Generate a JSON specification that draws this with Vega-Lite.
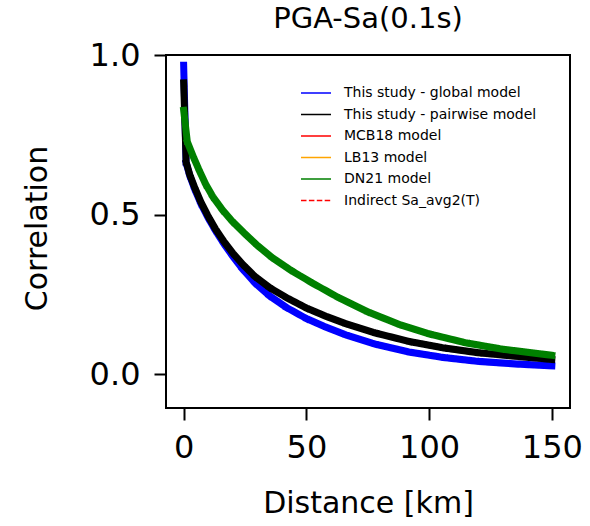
{
  "$schema": "https://vega.github.io/schema/vega-lite/v6.json",
  "width": 404,
  "height": 353,
  "autosize": {"type": "none"},
  "padding": {"left": 166, "top": 55, "right": 20, "bottom": 118},
  "background": "white",
  "title": {"text": "PGA-Sa(0.1s)", "font": "DejaVu Sans", "fontSize": 29, "fontWeight": "normal", "color": "black", "baseline": "bottom", "offset": 16, "dy": 40, "anchor": "middle", "frame": "group"},
  "data": {"values": [
    {"series": "This study - global model", "x": 0, "y": 0.968},
    {"series": "This study - global model", "x": 1, "y": 0.662},
    {"series": "This study - global model", "x": 2.5, "y": 0.622},
    {"series": "This study - global model", "x": 4.5, "y": 0.58},
    {"series": "This study - global model", "x": 7, "y": 0.535},
    {"series": "This study - global model", "x": 10, "y": 0.49},
    {"series": "This study - global model", "x": 13, "y": 0.45},
    {"series": "This study - global model", "x": 16.5, "y": 0.408},
    {"series": "This study - global model", "x": 20, "y": 0.37},
    {"series": "This study - global model", "x": 24, "y": 0.33},
    {"series": "This study - global model", "x": 29, "y": 0.287},
    {"series": "This study - global model", "x": 35, "y": 0.246},
    {"series": "This study - global model", "x": 42, "y": 0.209},
    {"series": "This study - global model", "x": 50, "y": 0.175},
    {"series": "This study - global model", "x": 58, "y": 0.148},
    {"series": "This study - global model", "x": 66, "y": 0.124},
    {"series": "This study - global model", "x": 78, "y": 0.095},
    {"series": "This study - global model", "x": 92, "y": 0.07},
    {"series": "This study - global model", "x": 106, "y": 0.053},
    {"series": "This study - global model", "x": 120, "y": 0.041},
    {"series": "This study - global model", "x": 135, "y": 0.033},
    {"series": "This study - global model", "x": 150, "y": 0.027},
    {"series": "This study - pairwise model", "x": 0, "y": 0.913},
    {"series": "This study - pairwise model", "x": 1, "y": 0.665},
    {"series": "This study - pairwise model", "x": 2.5, "y": 0.625},
    {"series": "This study - pairwise model", "x": 4.5, "y": 0.585},
    {"series": "This study - pairwise model", "x": 7, "y": 0.54},
    {"series": "This study - pairwise model", "x": 10, "y": 0.495},
    {"series": "This study - pairwise model", "x": 13, "y": 0.455},
    {"series": "This study - pairwise model", "x": 16.5, "y": 0.415},
    {"series": "This study - pairwise model", "x": 20, "y": 0.38},
    {"series": "This study - pairwise model", "x": 24, "y": 0.345},
    {"series": "This study - pairwise model", "x": 29, "y": 0.307},
    {"series": "This study - pairwise model", "x": 35, "y": 0.272},
    {"series": "This study - pairwise model", "x": 42, "y": 0.24},
    {"series": "This study - pairwise model", "x": 50, "y": 0.208},
    {"series": "This study - pairwise model", "x": 58, "y": 0.182},
    {"series": "This study - pairwise model", "x": 66, "y": 0.159},
    {"series": "This study - pairwise model", "x": 78, "y": 0.13},
    {"series": "This study - pairwise model", "x": 92, "y": 0.103},
    {"series": "This study - pairwise model", "x": 106, "y": 0.083},
    {"series": "This study - pairwise model", "x": 120, "y": 0.068},
    {"series": "This study - pairwise model", "x": 135, "y": 0.057},
    {"series": "This study - pairwise model", "x": 150, "y": 0.047},
    {"series": "DN21 model", "x": 0, "y": 0.827},
    {"series": "DN21 model", "x": 1.5, "y": 0.728},
    {"series": "DN21 model", "x": 4, "y": 0.68},
    {"series": "DN21 model", "x": 6.5, "y": 0.636},
    {"series": "DN21 model", "x": 9, "y": 0.595},
    {"series": "DN21 model", "x": 12, "y": 0.555},
    {"series": "DN21 model", "x": 16, "y": 0.513},
    {"series": "DN21 model", "x": 20, "y": 0.478},
    {"series": "DN21 model", "x": 25, "y": 0.44},
    {"series": "DN21 model", "x": 30, "y": 0.404},
    {"series": "DN21 model", "x": 36, "y": 0.366},
    {"series": "DN21 model", "x": 43.5, "y": 0.327},
    {"series": "DN21 model", "x": 52, "y": 0.288},
    {"series": "DN21 model", "x": 63, "y": 0.241},
    {"series": "DN21 model", "x": 75, "y": 0.196},
    {"series": "DN21 model", "x": 88, "y": 0.156},
    {"series": "DN21 model", "x": 100, "y": 0.127},
    {"series": "DN21 model", "x": 115, "y": 0.099},
    {"series": "DN21 model", "x": 130, "y": 0.079},
    {"series": "DN21 model", "x": 150, "y": 0.06}
  ]},
  "encoding": {
    "x": {"field": "x", "type": "quantitative",
      "scale": {"domain": [-7.2, 157.4], "nice": false, "zero": false},
      "axis": {"values": [0, 50, 100, 150], "title": "Distance [km]", "titleX": 202, "titleY": 104, "titleBaseline": "alphabetic", "labelPadding": 12}},
    "y": {"field": "y", "type": "quantitative",
      "scale": {"domain": [-0.105, 1.0], "nice": false, "zero": false},
      "axis": {"values": [0, 0.5, 1.0], "format": ".1f", "title": "Correlation", "titleX": -129, "titleY": 173, "titleBaseline": "middle", "titleAngle": -90, "labelPadding": 14}},
    "color": {"field": "series", "type": "nominal",
      "scale": {"domain": ["This study - global model", "This study - pairwise model", "MCB18 model", "LB13 model", "DN21 model", "Indirect Sa_avg2(T)"],
        "range": ["#0000ff", "#000000", "#ff0000", "#ffa500", "#008000", "#ff0000"]},
      "legend": {"title": null}},
    "strokeDash": {"field": "series", "type": "nominal",
      "scale": {"domain": ["This study - global model", "This study - pairwise model", "MCB18 model", "LB13 model", "DN21 model", "Indirect Sa_avg2(T)"],
        "range": [[1, 0], [1, 0], [1, 0], [1, 0], [1, 0], [5.5, 2.4]]},
      "legend": {"title": null}}
  },
  "layer": [
    {"transform": [{"filter": "datum.series === 'This study - global model'"}],
     "mark": {"type": "line", "strokeWidth": 7, "strokeCap": "square", "strokeJoin": "round"}},
    {"transform": [{"filter": "datum.series === 'This study - pairwise model'"}],
     "mark": {"type": "line", "strokeWidth": 7, "strokeCap": "square", "strokeJoin": "round"}},
    {"transform": [{"filter": "datum.series === 'DN21 model'"}],
     "mark": {"type": "line", "strokeWidth": 7, "strokeCap": "square", "strokeJoin": "round"}}
  ],
  "config": {
    "view": {"stroke": "black", "strokeWidth": 2},
    "axis": {
      "domain": false, "grid": false, "ticks": true, "tickColor": "black", "tickWidth": 2, "tickSize": 12,
      "labelFont": "DejaVu Sans", "labelFontSize": 32, "labelColor": "black",
      "titleFont": "DejaVu Sans", "titleFontSize": 30, "titleFontWeight": "normal", "titleColor": "black"
    },
    "legend": {
      "orient": "none", "legendX": 143, "legendY": 31, "padding": 0,
      "symbolType": "M-2.5,0H2.5", "symbolSize": 144, "symbolStrokeWidth": 1.5,
      "labelFont": "DejaVu Sans", "labelFontSize": 14, "labelColor": "black", "labelOffset": 21,
      "rowPadding": 7.5, "labelLimit": 300
    }
  }
}
